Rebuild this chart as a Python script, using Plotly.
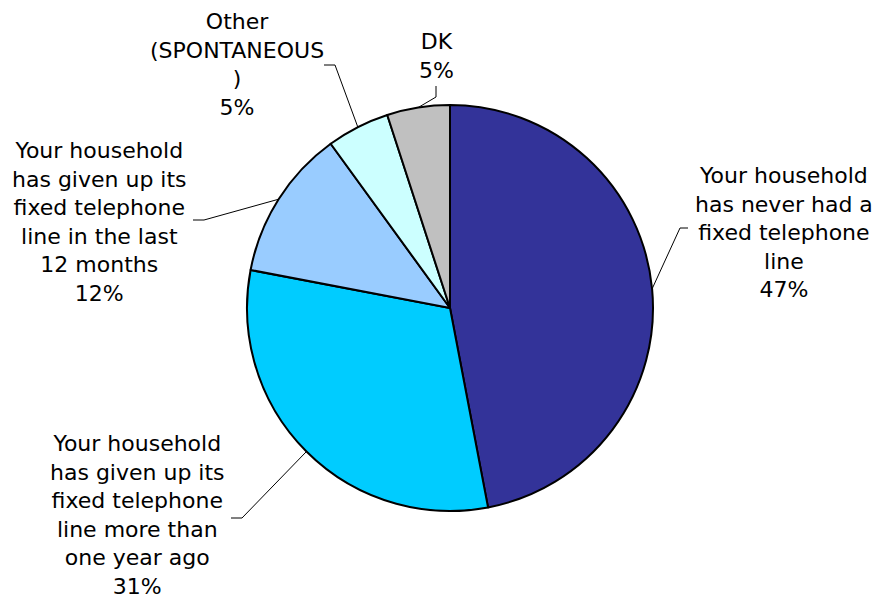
import math
import plotly.graph_objects as go

labels = [
    "Your household<br>has never had a<br>fixed telephone<br>line",
    "Your household<br>has given up its<br>fixed telephone<br>line more than<br>one year ago",
    "Your household<br>has given up its<br>fixed telephone<br>line in the last<br>12 months",
    "Other<br>(SPONTANEOUS<br>)",
    "DK",
]
values = [47, 31, 12, 5, 5]
colors = ["#333399", "#00CCFF", "#99CCFF", "#CCFFFF", "#C0C0C0"]

OFF = 8  # browser body margin
W, H = 880 - OFF, 598 - OFF
CX, CY, R = 450, 308, 203

# label layout (pixel positions in the window): text centre, leader elbow, leader end
label_pos = [(784, 232), (137, 515), (99, 222), (237, 64), (436, 56)]
elbows = [(680, 228), (242, 518), (204, 220), (335, 65), (436, 97)]
ends = [(688, 228), (231, 518), (193, 220), (324, 65), (436, 86)]

def px(x):
    return (x - OFF) / W

def py(y):
    return 1 - (y - OFF) / H

fig = go.Figure(go.Pie(
    labels=[l.replace("<br>", " ") for l in labels],
    values=values,
    marker=dict(colors=colors, line=dict(color="black", width=2)),
    sort=False,
    direction="clockwise",
    rotation=0,
    textinfo="none",
    hoverinfo="label+percent",
    showlegend=False,
    domain=dict(x=[px(CX - R), px(CX + R)], y=[py(CY + R), py(CY - R)]),
))

total = sum(values)
cum = 0
shapes = []
annotations = []
for i, v in enumerate(values):
    mid = (cum + v / 2) / total * 2 * math.pi
    cum += v
    ex = CX + R * math.sin(mid)
    ey = CY - R * math.cos(mid)
    (bx, by), (fx, fy) = elbows[i], ends[i]
    path = f"M {px(ex)},{py(ey)} L {px(bx)},{py(by)} L {px(fx)},{py(fy)}"
    shapes.append(dict(type="path", xref="paper", yref="paper", path=path,
                       line=dict(color="black", width=1)))
    pct = round(v / total * 100)
    tx, ty = label_pos[i]
    annotations.append(dict(
        x=px(tx), y=py(ty), xref="paper", yref="paper",
        text=f"{labels[i]}<br>{pct}%", showarrow=False,
        xanchor="center", yanchor="middle", align="center",
        font=dict(family="DejaVu Sans, Verdana, sans-serif", size=22, color="black"),
    ))

fig.update_layout(
    width=W, height=H, autosize=False,
    margin=dict(l=0, r=0, t=0, b=0),
    paper_bgcolor="white", plot_bgcolor="white",
    shapes=shapes, annotations=annotations,
)
fig.write_html("out.html")
